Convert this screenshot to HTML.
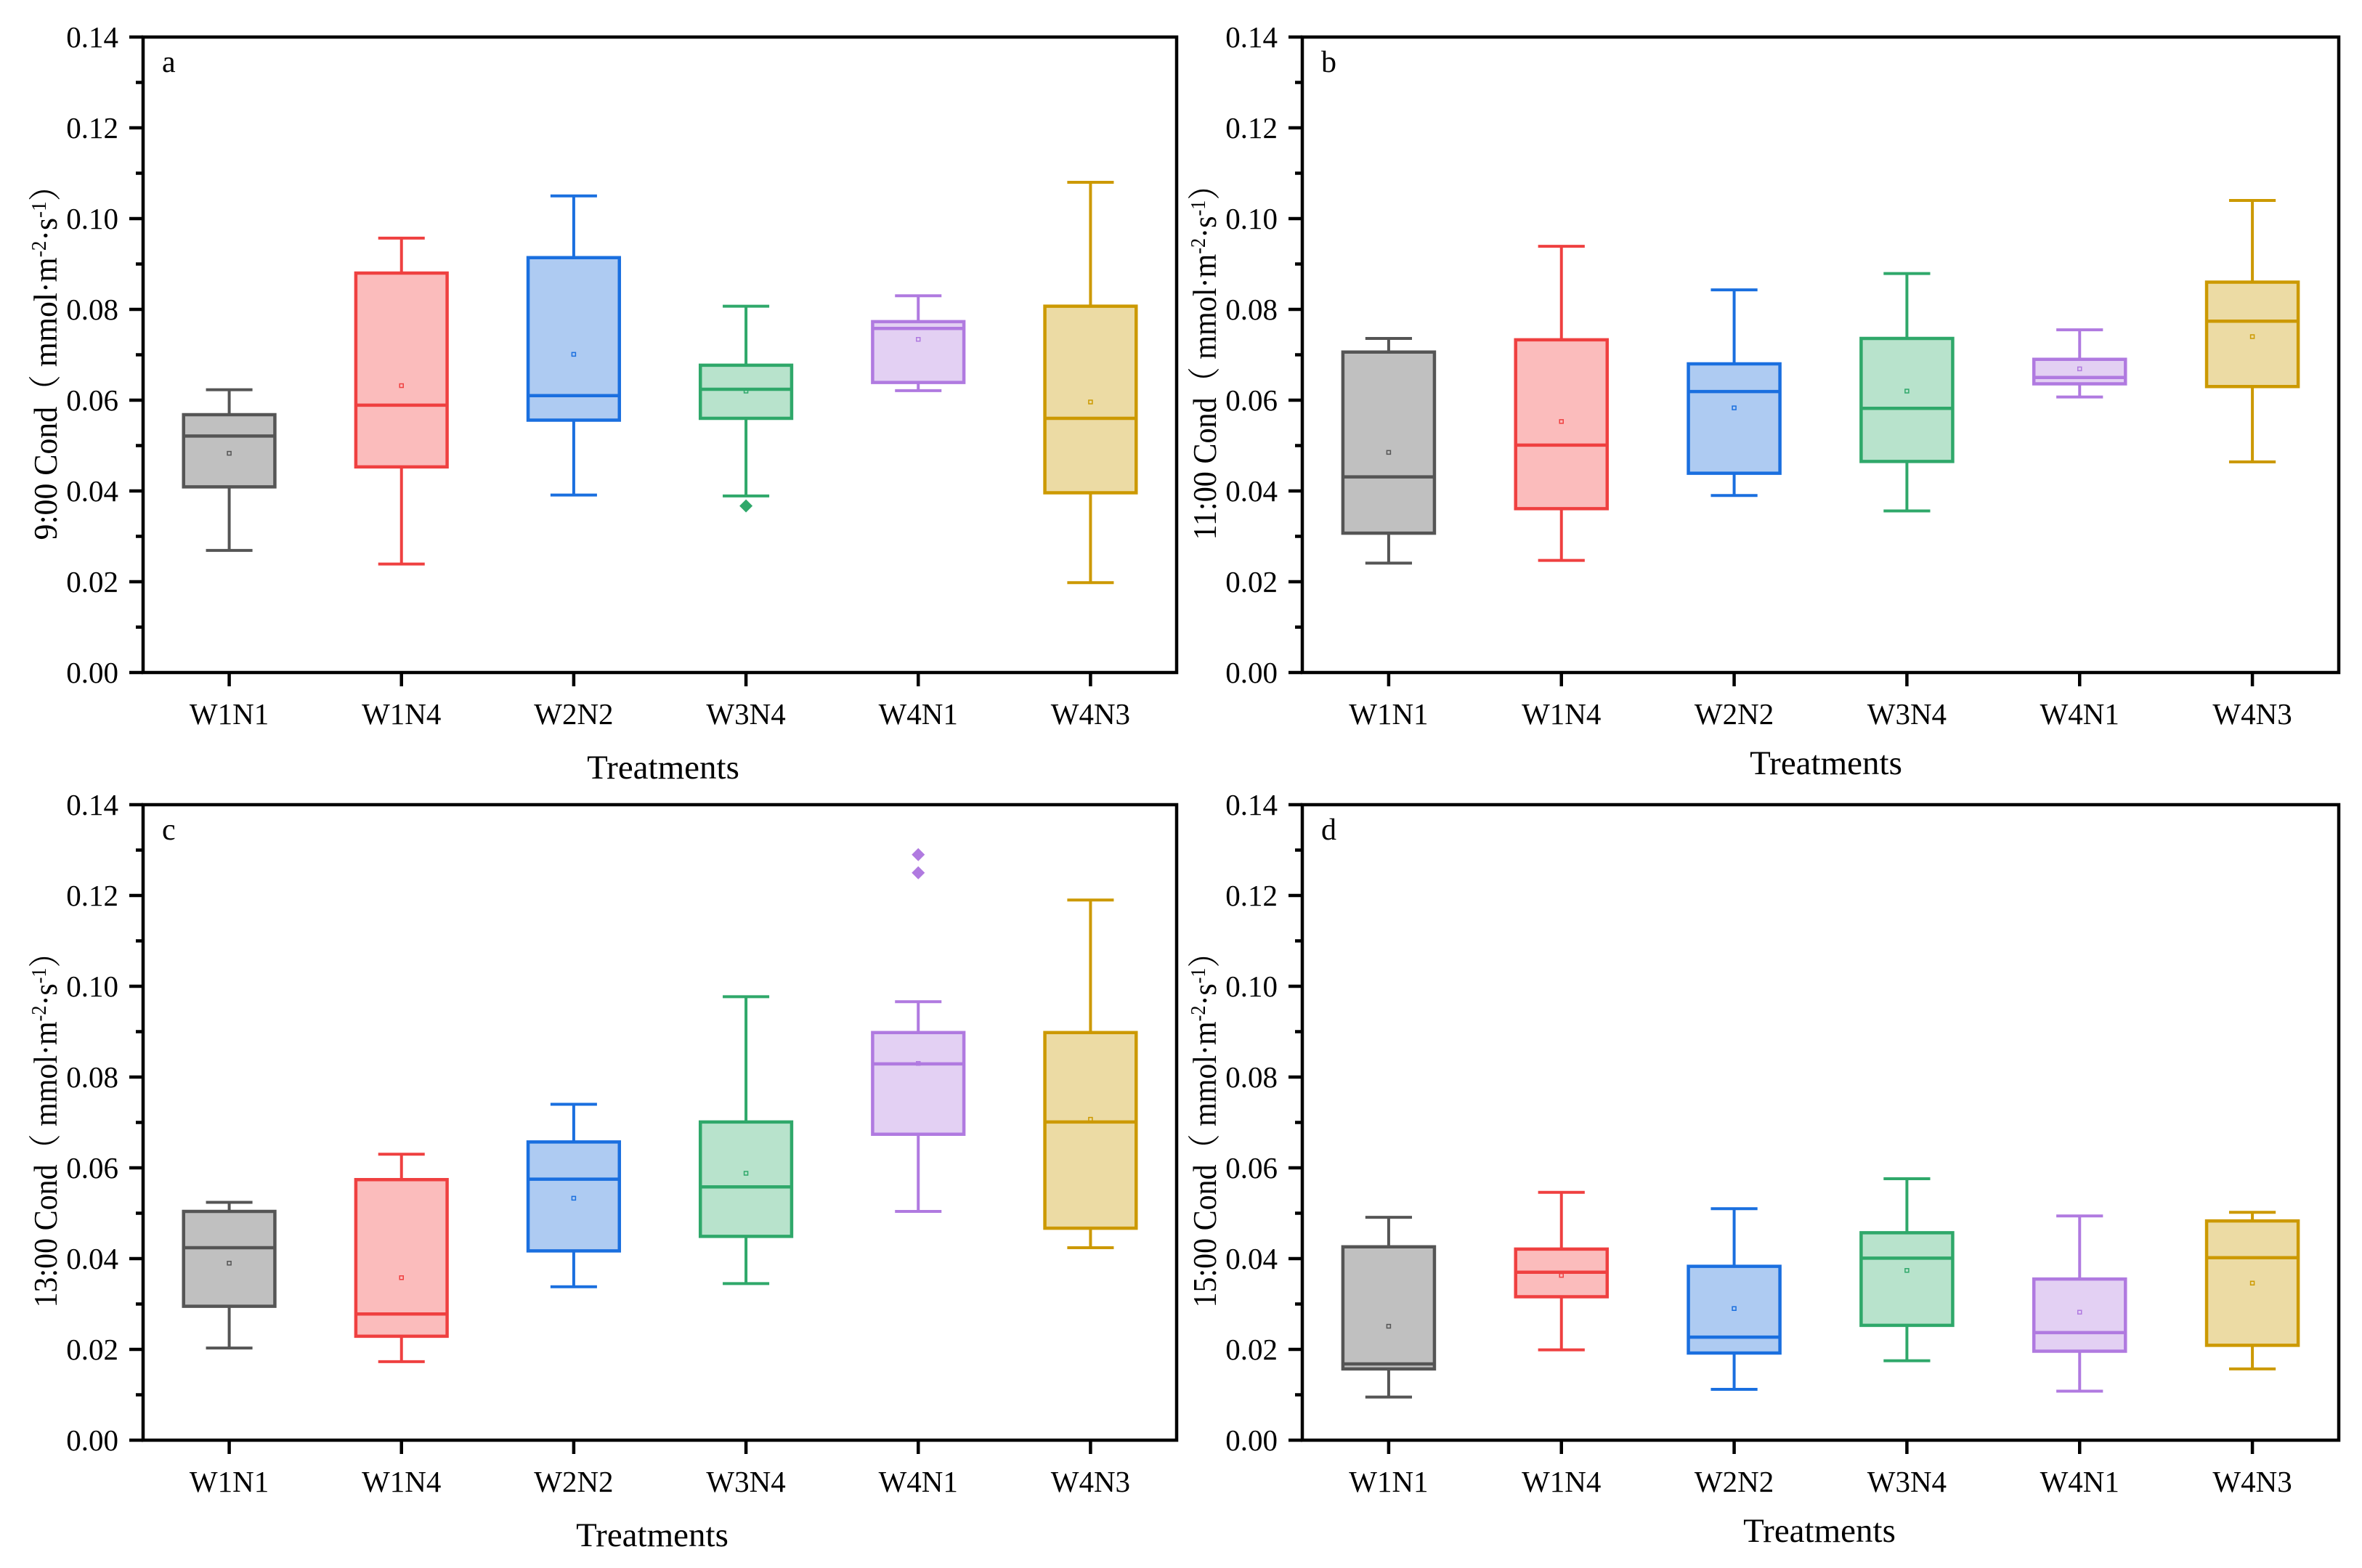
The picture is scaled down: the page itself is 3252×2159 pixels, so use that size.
<!DOCTYPE html>
<html><head><meta charset="utf-8"><style>
html,body{margin:0;padding:0;background:#fff;}
svg{display:block;}
text{font-family:"Liberation Serif","Noto Serif CJK SC",serif;fill:#000;}
</style></head><body>
<svg id="chart" width="3252" height="2159" viewBox="0 0 3252 2159" xmlns="http://www.w3.org/2000/svg"></svg>
<script>
const categories = ["W1N1","W1N4","W2N2","W3N4","W4N1","W4N3"];
const yTicks = [0,0.02,0.04,0.06,0.08,0.10,0.12,0.14];
const yTickLabels = ["0.00","0.02","0.04","0.06","0.08","0.10","0.12","0.14"];
// each panel: [low whisker, Q1, median, Q3, high whisker, mean]
const panelA = [[0.0269,0.0409,0.0521,0.0568,0.0623,0.0483],[0.0239,0.0453,0.0589,0.0880,0.0957,0.0632],[0.0391,0.0556,0.0610,0.0914,0.1050,0.0701],[0.0389,0.0560,0.0624,0.0677,0.0807,0.0620],[0.0621,0.0639,0.0758,0.0773,0.0830,0.0734],[0.0198,0.0396,0.0560,0.0807,0.1080,0.0596]];
const panelB = [[0.0241,0.0307,0.0431,0.0706,0.0736,0.0485],[0.0247,0.0361,0.0501,0.0733,0.0939,0.0553],[0.0390,0.0439,0.0619,0.0680,0.0843,0.0583],[0.0356,0.0465,0.0582,0.0736,0.0879,0.0620],[0.0607,0.0636,0.0650,0.0690,0.0755,0.0669],[0.0464,0.0630,0.0774,0.0860,0.1040,0.0740]];
const panelC = [[0.0203,0.0295,0.0424,0.0504,0.0524,0.0390],[0.0173,0.0229,0.0278,0.0574,0.0630,0.0358],[0.0338,0.0417,0.0575,0.0657,0.0740,0.0533],[0.0345,0.0449,0.0558,0.0701,0.0977,0.0588],[0.0504,0.0674,0.0829,0.0898,0.0966,0.0830],[0.0424,0.0467,0.0701,0.0898,0.1190,0.0707]];
const panelD = [[0.0095,0.0157,0.0168,0.0426,0.0491,0.0251],[0.0199,0.0316,0.0370,0.0421,0.0546,0.0363],[0.0112,0.0192,0.0227,0.0383,0.0510,0.0290],[0.0175,0.0253,0.0401,0.0457,0.0576,0.0374],[0.0108,0.0196,0.0237,0.0355,0.0494,0.0282],[0.0157,0.0209,0.0402,0.0483,0.0502,0.0346]];
const outliersA = [[],[],[],[0.0367],[],[]];
const outliersB = [[],[],[],[],[],[]];
const outliersC = [[],[],[],[],[0.129,0.125],[]];
const outliersD = [[],[],[],[],[],[]];
const panelLetters = ["a","b","c","d"];
const panelTimes = ["9:00","11:00","13:00","15:00"];

const strokes = ["#555555","#ef4040","#1a6fdf","#2fa86a","#b07ae0","#cc9900"];
const fills = ["#c0c0c0","#fbbcbc","#aecbf2","#b8e3cc","#e3d0f3","#ecdba4"];
const NS = "http://www.w3.org/2000/svg";
const svg = document.getElementById("chart");
function mk(tag, attrs, parent){
  const e = document.createElementNS(NS, tag);
  for (const k in attrs) e.setAttribute(k, attrs[k]);
  (parent||svg).appendChild(e);
  return e;
}
const layouts = [
  {L:197,R:1620,T:51,B:926,data:panelA,out:outliersA,titleX:913,titleY:1072,ytx:78},
  {L:1793,R:3220,T:51,B:926,data:panelB,out:outliersB,titleX:2514,titleY:1066,ytx:1674},
  {L:197,R:1620,T:1108,B:1983,data:panelC,out:outliersC,titleX:898,titleY:2129,ytx:78},
  {L:1793,R:3220,T:1108,B:1983,data:panelD,out:outliersD,titleX:2505,titleY:2123,ytx:1674}
];
layouts.forEach((p, pi) => {
  const g = mk("g", {});
  
  
  const yS = v => p.B - v / 0.14 * (p.B - p.T);
  const step = (p.R - p.L) / categories.length;
  const xS = i => p.L + (i + 0.5) * step;
  const bw = step * 0.53, cw = step * 0.27;
  // boxes
  p.data.forEach((d, i) => {
    const bg = mk("g", {}, g);
    
    
    const cx = xS(i), s = strokes[i];
    mk("line", {x1:cx,x2:cx,y1:yS(d[3]),y2:yS(d[4]),stroke:s,"stroke-width":4}, bg);
    mk("line", {x1:cx,x2:cx,y1:yS(d[1]),y2:yS(d[0]),stroke:s,"stroke-width":4}, bg);
    mk("line", {x1:cx-cw/2,x2:cx+cw/2,y1:yS(d[4]),y2:yS(d[4]),stroke:s,"stroke-width":4}, bg);
    mk("line", {x1:cx-cw/2,x2:cx+cw/2,y1:yS(d[0]),y2:yS(d[0]),stroke:s,"stroke-width":4}, bg);
    mk("rect", {x:cx-bw/2,y:yS(d[3]),width:bw,height:yS(d[1])-yS(d[3]),fill:fills[i],stroke:s,"stroke-width":4.5}, bg);
    mk("line", {x1:cx-bw/2,x2:cx+bw/2,y1:yS(d[2]),y2:yS(d[2]),stroke:s,"stroke-width":4.5}, bg);
    mk("rect", {x:cx-2.5,y:yS(d[5])-2.5,width:5,height:5,fill:"none",stroke:s,"stroke-width":1.5}, bg);
    p.out[i].forEach(o => {
      const y = yS(o);
      const dm = mk("polygon", {points:`${cx},${y-9} ${cx+9},${y} ${cx},${y+9} ${cx-9},${y}`,fill:s}, bg);
      
      
    });
  });
  // frame
  const fr = mk("rect", {x:p.L,y:p.T,width:p.R-p.L,height:p.B-p.T,fill:"none",stroke:"#000","stroke-width":4.5}, g);
  
  
  // y ticks
  yTicks.forEach((v, k) => {
    const y = yS(v);
    mk("line", {x1:p.L-19,x2:p.L,y1:y,y2:y,stroke:"#000","stroke-width":4.5}, g);
    const t = mk("text", {x:p.L-34,y:y+14,"text-anchor":"end","font-size":41}, g);
    t.textContent = yTickLabels[k];
    
    
    if (k < yTicks.length - 1) {
      const ym = yS(v + 0.01);
      mk("line", {x1:p.L-10,x2:p.L,y1:ym,y2:ym,stroke:"#000","stroke-width":4.5}, g);
    }
  });
  // x ticks
  categories.forEach((c, i) => {
    const x = xS(i);
    mk("line", {x1:x,x2:x,y1:p.B,y2:p.B+19,stroke:"#000","stroke-width":4.5}, g);
    const t = mk("text", {x:x,y:p.B+71,"text-anchor":"middle","font-size":41}, g);
    t.textContent = c;
    
    
  });
  const lt = mk("text", {x:p.L+26,y:p.T+48,"font-size":42}, g);
  lt.textContent = panelLetters[pi];
  
  
  const xt = mk("text", {x:p.titleX,y:p.titleY,"text-anchor":"middle","font-size":47}, g);
  xt.textContent = "Treatments";
  
  
  const cy = (p.T + p.B) / 2 - 0;
  const yt = mk("text", {transform:`translate(${p.ytx},${cy-0}) rotate(-90)`,"text-anchor":"middle","font-size":45,textLength:510,lengthAdjust:"spacingAndGlyphs"}, g);
  
  
  yt.innerHTML = panelTimes[pi] + ' Cond（ mmol·m<tspan baseline-shift="super" font-size="28">-2</tspan>·s<tspan baseline-shift="super" font-size="28">-1</tspan>）';
});
</script>
</body></html>
